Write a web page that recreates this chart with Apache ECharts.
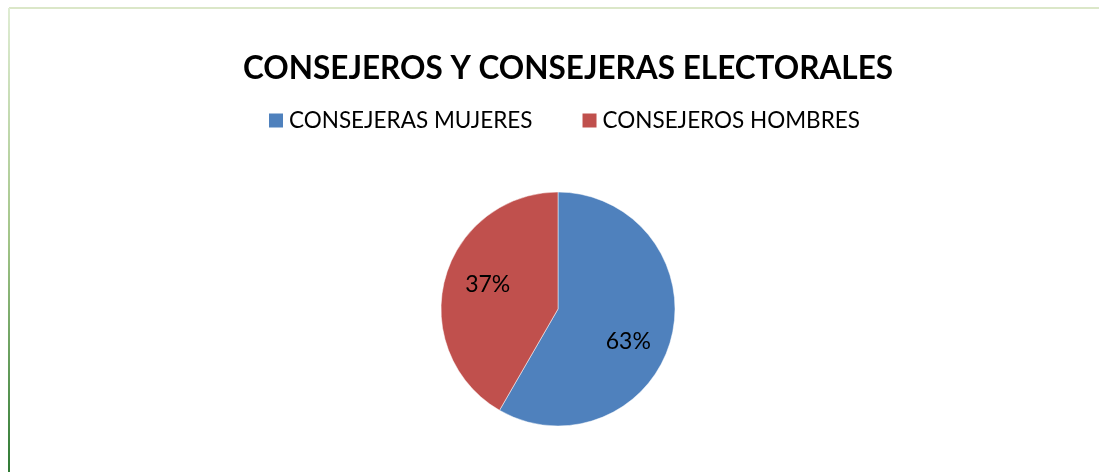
<!DOCTYPE html>
<html>
<head>
<meta charset="utf-8">
<script src="https://cdn.jsdelivr.net/npm/echarts@6/dist/echarts.min.js"></script>
<style>
  html, body { margin: 0; padding: 0; background: #fff; }
  #chart { width: 1099px; height: 472px; }
</style>
</head>
<body>
<div id="chart"></div>
<script>
const categories = ['CONSEJERAS MUJERES', 'CONSEJEROS HOMBRES']
// slice sizes as drawn in the picture
const values = [7, 5]
// percentages printed on the slices
const sliceLabels = ['63%', '37%']
const colors = ['#4f81bd', '#c0504d']

const chart = echarts.init(document.getElementById('chart'))
const font = 'Lato, "Liberation Sans", sans-serif'

const option = {
  backgroundColor: '#fff',
  animation: false,
  title: {
    text: 'CONSEJEROS Y CONSEJERAS ELECTORALES',
    left: 238,
    top: 48,
    textStyle: { fontFamily: font, fontWeight: 'bold', fontSize: 31.5, color: '#000' },
  },
  legend: {
    data: categories,
    left: 262,
    top: 104,
    icon: 'rect',
    itemWidth: 16,
    itemHeight: 16,
    itemGap: 48,
    textStyle: { fontFamily: font, fontSize: 22.5, color: '#000' },
  },
  graphic: [
    {
      type: 'line',
      shape: { x1: 9, y1: 8, x2: 1099, y2: 8 },
      style: { stroke: '#dbe7c8', lineWidth: 2 },
    },
    {
      type: 'line',
      shape: { x1: 9, y1: 8, x2: 9, y2: 472 },
      style: {
        lineWidth: 2,
        stroke: new echarts.graphic.LinearGradient(0, 0, 0, 1, [
          { offset: 0, color: '#e0edd4' },
          { offset: 0.5, color: '#a3c589' },
          { offset: 1, color: '#2f7a34' },
        ]),
      },
    },
  ],
  series: [
    {
      name: 'pie',
      type: 'pie',
      center: [558, 309],
      radius: 117,
      startAngle: 90,
      clockwise: true,
      label: { show: false },
      labelLine: { show: false },
      itemStyle: { borderColor: '#fff', borderWidth: 0.5 },
      data: categories.map((c, i) => ({ name: c, value: values[i], itemStyle: { color: colors[i] } })),
    },
    {
      // transparent copy only to place the percentage labels
      name: 'labels',
      type: 'pie',
      center: [558, 309],
      radius: 152,
      startAngle: 90,
      clockwise: true,
      silent: true,
      legendHoverLink: false,
      itemStyle: { color: 'transparent' },
      label: {
        show: true,
        position: 'inside',
        fontFamily: font,
        fontSize: 23,
        color: '#000',
        formatter: p => sliceLabels[p.dataIndex],
      },
      labelLine: { show: false },
      labelLayout: p => ({ dx: p.dataIndex === 0 ? -6 : 6, dy: p.dataIndex === 0 ? 12 : -4 }),
      data: categories.map((c, i) => ({ name: c + ' ', value: values[i] })),
    },
  ],
}
chart.setOption(option)
</script>
</body>
</html>
